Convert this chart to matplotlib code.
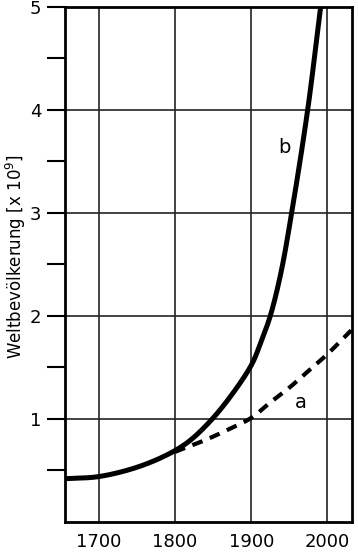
import matplotlib.pyplot as plt
import numpy as np

# values (population in 10^9)
years_b = [1657, 1700, 1750, 1792, 1818, 1844, 1870, 1900, 1912, 1925, 1939, 1953, 1974, 1991]
pop_b = [0.42, 0.44, 0.53, 0.66, 0.78, 0.96, 1.19, 1.52, 1.73, 2.00, 2.42, 3.00, 4.00, 5.00]
years_a = [1800, 1835, 1868, 1900, 1925, 1951, 1974, 2000, 2031]
pop_a = [0.68, 0.78, 0.89, 1.01, 1.16, 1.31, 1.46, 1.63, 1.86]
xticks = [1700, 1800, 1900, 2000]
yticks = [1, 2, 3, 4, 5]


# centripetal Catmull-Rom through the read points (done in roughly
# screen-proportional units so the curve bends evenly)
def smooth(xs, ys, n=25, sx=0.765, sy=103.0):
    p = np.column_stack([np.asarray(xs) * sx, np.asarray(ys) * sy]).astype(float)
    p = np.vstack([2 * p[0] - p[1], p, 2 * p[-1] - p[-2]])
    out = []
    for i in range(1, len(p) - 2):
        P0, P1, P2, P3 = p[i - 1], p[i], p[i + 1], p[i + 2]
        t0 = 0.0
        t1 = t0 + np.linalg.norm(P1 - P0) ** 0.5
        t2 = t1 + np.linalg.norm(P2 - P1) ** 0.5
        t3 = t2 + np.linalg.norm(P3 - P2) ** 0.5
        t = np.linspace(t1, t2, n, endpoint=False)[:, None]
        A1 = (t1 - t) / (t1 - t0) * P0 + (t - t0) / (t1 - t0) * P1
        A2 = (t2 - t) / (t2 - t1) * P1 + (t - t1) / (t2 - t1) * P2
        A3 = (t3 - t) / (t3 - t2) * P2 + (t - t2) / (t3 - t2) * P3
        B1 = (t2 - t) / (t2 - t0) * A1 + (t - t0) / (t2 - t0) * A2
        B2 = (t3 - t) / (t3 - t1) * A2 + (t - t1) / (t3 - t1) * A3
        out.append((t2 - t) / (t2 - t1) * B1 + (t - t1) / (t2 - t1) * B2)
    out.append(p[-2][None, :])
    out = np.vstack(out)
    return out[:, 0] / sx, out[:, 1] / sy


fig = plt.figure(figsize=(3.58, 5.6), dpi=100)
ax = fig.add_axes([0.1816, 0.068, 0.8014, 0.9195])

xa, ya = smooth(years_a, pop_a)
xb, yb = smooth(years_b, pop_b)
ax.plot(xa, ya, color='black', lw=3.0, ls=(0, (2.6, 1.9)), zorder=3)
ax.plot(xb, yb, color='black', lw=3.6, zorder=4, solid_capstyle='butt')

ax.text(1944, 3.64, 'b', fontsize=14, ha='center', va='center')
ax.text(1965, 1.16, 'a', fontsize=14, ha='center', va='center')

ax.set_xlim(1656, 2032)
ax.set_ylim(0, 5)
ax.set_xticks(xticks)
ax.set_yticks(yticks)
ax.set_yticks(np.arange(0.5, 5, 1), minor=True)
ax.grid(True, which='major', color='#222222', lw=1.2)
ax.tick_params(axis='y', which='both', length=13, width=1.5, labelsize=13, pad=4)
ax.tick_params(axis='x', length=0, labelsize=13, pad=8)
for s in ax.spines.values():
    s.set_linewidth(2)
ax.set_ylabel('Weltbevölkerung [x 10$^9$]', fontsize=12)
ax.yaxis.set_label_coords(-0.13, 0.515)

fig.savefig('out.png', dpi=100)
